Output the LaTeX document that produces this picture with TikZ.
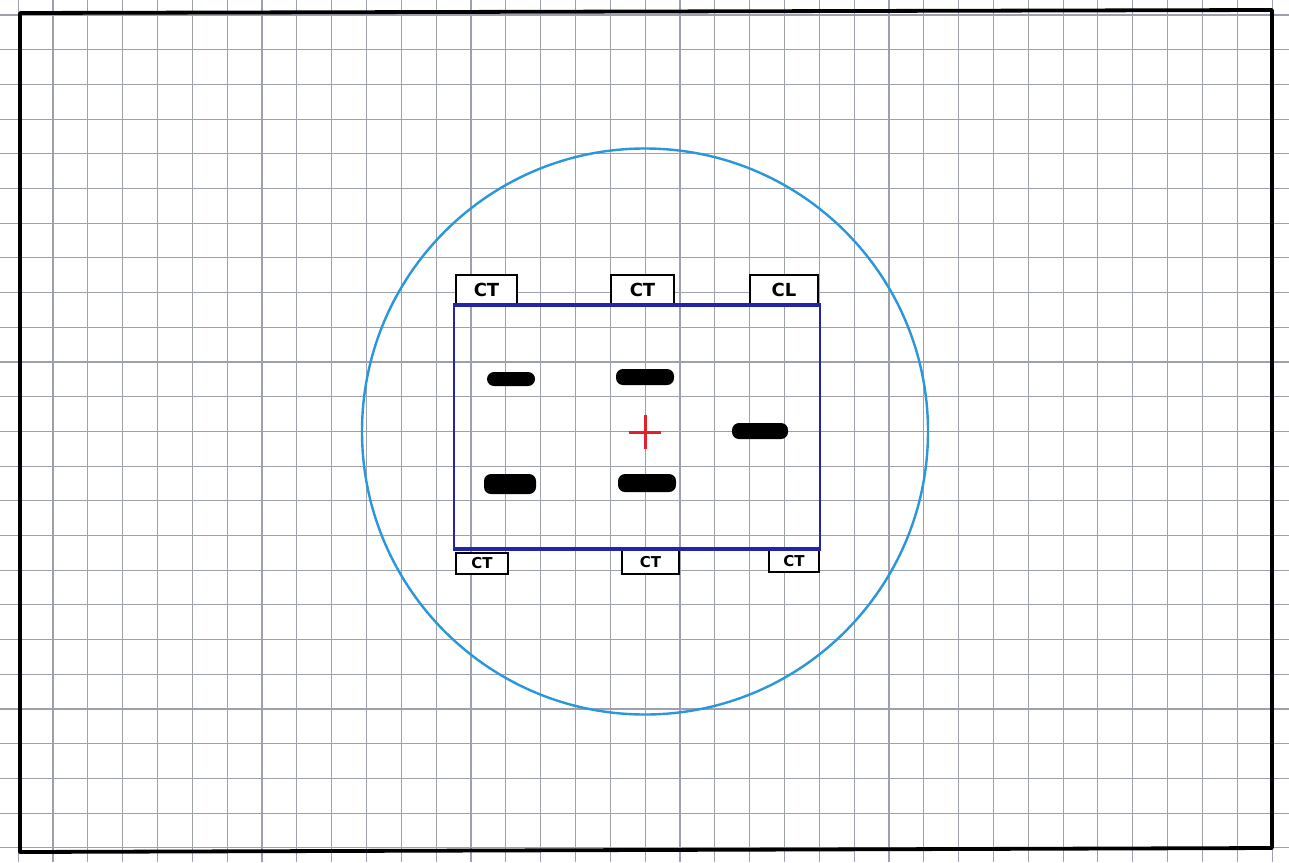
\documentclass[tikz,border=0pt]{standalone}
\usepackage{fontspec}
\setsansfont{DejaVu Sans}
\usetikzlibrary{shapes.geometric}
\definecolor{gridc}{HTML}{9CA1AD}
\definecolor{circc}{HTML}{2A96DC}
\definecolor{rectc}{HTML}{2424A8}
\definecolor{crossc}{HTML}{E0202A}
\tikzset{
  gridline/.style={draw=gridc, line width=1.1pt},
  labelbox/.style={draw=black, line width=1.8pt, fill=white, inner sep=0pt,
    font=\sffamily\bfseries\fontsize{18}{18}\selectfont, text=black},
  smalllabel/.style={labelbox, font=\sffamily\bfseries\fontsize{15}{15}\selectfont},
  blob/.style={rectangle, rounded corners=7pt, fill=black, inner sep=0pt},
}
\begin{document}
\begin{tikzpicture}[x=1pt,y=-1pt]
\useasboundingbox (0,0) rectangle (1289,862);
\fill[white] (0,0) rectangle (1289,862);
% grid
\foreach \k in {0,...,36} {
  \draw[gridline] ({18.2+34.83*\k},0) -- ({18.2+34.83*\k},862);
}
\foreach \k in {0,...,24} {
  \draw[gridline] (0,{15+34.7*\k}) -- (1289,{15+34.7*\k});
}
% sheet border
\draw[black, line width=3.8pt, line join=round]
  (20,13) -- (1272,10) -- (1272,848) -- (20,852) -- cycle;
% circle
\node[circle, draw=circc, line width=2.4pt, minimum size=566pt, inner sep=0pt] (ring) at (645,431.5) {};
% rectangle
\node[draw=rectc, line width=2.8pt, minimum width=366pt, minimum height=242pt, inner sep=0pt] (frame) at (637,427) {};
% labels top
\node[labelbox, minimum width=61pt, minimum height=29pt] (t1) at (486.5,289.5) {CT};
\node[labelbox, minimum width=63pt, minimum height=29pt] (t2) at (642.5,289.5) {CT};
\node[labelbox, minimum width=68pt, minimum height=29pt] (t3) at (784,289.5) {CL};
% labels bottom
\node[smalllabel, minimum width=52pt, minimum height=21pt] (b1) at (482,563.5) {CT};
\node[smalllabel, minimum width=57pt, minimum height=24pt] (b2) at (650.5,562) {CT};
\node[smalllabel, minimum width=50pt, minimum height=22pt] (b3) at (794,561) {CT};
% redraw rectangle edges over boxes
\draw[rectc, line width=2.8pt] (frame.north west) -- (frame.north east);
\draw[rectc, line width=2.8pt] (frame.south west) -- (frame.south east);
% blobs
\node[blob, minimum width=48pt, minimum height=14pt] (d1) at (511,379) {};
\node[blob, minimum width=58pt, minimum height=16pt] (d2) at (645,377) {};
\node[blob, minimum width=56pt, minimum height=16pt] (d3) at (760,431) {};
\node[blob, minimum width=52pt, minimum height=20pt] (d4) at (510,484) {};
\node[blob, minimum width=58pt, minimum height=18pt] (d5) at (647,483) {};
% red cross
\coordinate (cc) at (645,432);
\draw[crossc, line width=3pt] ([xshift=-16pt]cc) -- ([xshift=16pt]cc);
\draw[crossc, line width=3pt] ([yshift=-17pt]cc) -- ([yshift=17pt]cc);
\end{tikzpicture}
\end{document}
